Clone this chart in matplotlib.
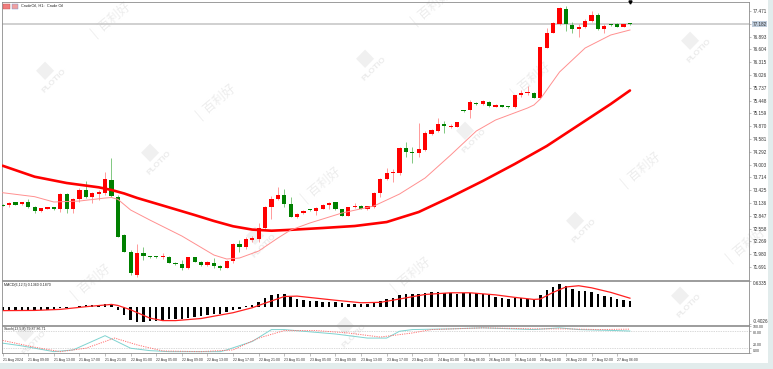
import numpy as np
import matplotlib.pyplot as plt
from matplotlib.patches import Rectangle

plt.rcParams['font.family'] = ['Liberation Sans', 'DejaVu Sans']

W, H = 773, 369

# =============================================================================
# DATI (CrudeOil H1)
# =============================================================================
opens = [73.101, 73.090, 73.151, 73.106, 73.165, 73.038, 72.955, 73.007, 73.038, 72.993,
         73.332, 72.993, 73.226, 73.429, 73.278, 73.345, 73.368, 73.655, 73.278, 72.413,
         72.036, 71.509, 72.013, 71.927, 71.927, 71.916, 71.923, 71.787, 71.751, 71.674,
         71.909, 71.810, 71.735, 71.787, 71.713, 71.674, 71.832, 72.203, 72.135, 72.300,
         72.316, 72.578, 73.038, 73.219, 73.316, 73.113, 72.826, 72.903, 72.982, 72.955,
         73.000, 73.083, 73.151, 73.000, 72.848, 73.038, 73.074, 72.989, 73.052, 73.354,
         73.670, 73.806, 73.806, 74.370, 74.294, 74.257, 74.332, 74.693, 74.768, 74.919,
         74.858, 74.858, 75.235, 75.235, 75.400, 75.371, 75.423, 75.310, 75.348, 75.326,
         75.296, 75.574, 75.612, 75.626, 75.513, 76.642, 76.981, 77.177, 77.509, 77.154,
         77.057, 77.116, 77.245, 77.380, 77.057, 77.159, 77.177, 77.116, 77.190]
highs = [73.113, 73.165, 73.165, 73.165, 73.219, 73.068, 73.029, 73.052, 73.052, 73.354,
         73.354, 73.241, 73.467, 73.639, 73.384, 73.429, 73.842, 74.145, 73.316, 72.435,
         72.074, 72.209, 72.148, 71.939, 71.939, 71.999, 71.939, 71.803, 71.848, 71.923,
         71.916, 71.826, 71.826, 71.887, 71.735, 71.848, 72.225, 72.300, 72.374, 72.390,
         72.677, 73.068, 73.300, 73.490, 73.445, 73.278, 72.909, 72.977, 72.989, 73.052,
         73.113, 73.165, 73.165, 73.011, 73.045, 73.128, 73.090, 73.074, 73.390, 73.693,
         73.919, 73.896, 74.407, 74.519, 74.407, 74.935, 74.768, 74.806, 75.048, 74.987,
         74.919, 74.971, 75.246, 75.461, 75.416, 75.461, 75.438, 75.364, 75.359, 75.337,
         75.585, 75.687, 75.777, 75.642, 76.665, 77.080, 77.229, 77.568, 77.584, 77.229,
         77.177, 77.283, 77.477, 77.419, 77.177, 77.166, 77.206, 77.188, 77.195]
lows = [73.068, 73.052, 73.083, 73.090, 73.016, 72.903, 72.932, 73.000, 72.984, 72.939,
        72.903, 72.903, 73.165, 73.241, 73.128, 73.203, 73.316, 73.278, 72.368, 72.029,
        71.509, 71.471, 71.848, 71.905, 71.905, 71.864, 71.780, 71.735, 71.622, 71.638,
        71.803, 71.724, 71.724, 71.661, 71.622, 71.668, 71.774, 72.036, 72.097, 72.255,
        72.261, 72.548, 72.774, 73.203, 73.038, 72.812, 72.797, 72.887, 72.966, 72.864,
        72.989, 72.993, 72.977, 72.842, 72.842, 73.016, 73.000, 72.977, 73.016, 73.278,
        73.655, 73.616, 73.767, 74.181, 74.032, 74.181, 74.316, 74.671, 74.745, 74.723,
        74.822, 74.851, 75.201, 75.048, 75.348, 75.348, 75.314, 75.303, 75.303, 75.280,
        75.280, 75.535, 75.574, 75.506, 75.499, 76.628, 76.967, 77.154, 77.026, 76.967,
        76.877, 77.080, 77.229, 77.042, 76.967, 77.143, 77.103, 77.109, 77.160]
closes = [73.079, 73.142, 73.097, 73.158, 73.038, 72.948, 73.016, 73.038, 72.993, 73.332,
          72.993, 73.219, 73.429, 73.278, 73.354, 73.384, 73.670, 73.300, 72.374, 72.036,
          71.548, 72.013, 71.939, 71.920, 71.920, 71.927, 71.787, 71.751, 71.674, 71.909,
          71.810, 71.735, 71.810, 71.713, 71.674, 71.832, 72.203, 72.135, 72.316, 72.338,
          72.578, 73.038, 73.226, 73.316, 73.113, 72.826, 72.887, 72.961, 72.973, 73.016,
          73.090, 73.128, 73.000, 72.848, 73.038, 73.074, 73.007, 73.061, 73.354, 73.670,
          73.806, 73.842, 74.370, 74.294, 74.257, 74.348, 74.709, 74.784, 74.919, 74.874,
          74.874, 74.957, 75.213, 75.423, 75.364, 75.445, 75.326, 75.348, 75.310, 75.296,
          75.574, 75.626, 75.648, 75.513, 76.651, 76.981, 77.206, 77.532, 77.177, 77.057,
          77.116, 77.252, 77.380, 77.057, 77.139, 77.150, 77.116, 77.177, 77.182]

# medie mobili (lenta spessa, veloce sottile)
slow_ma_idx = [0, 5, 10, 15, 17, 19, 21, 25, 30, 33, 36, 39, 42, 45, 50, 55, 60, 65, 70, 75,
               80, 85, 90, 95, 98]
slow_ma = [73.977, 73.729, 73.587, 73.490, 73.430, 73.350, 73.250, 73.079, 72.864, 72.730,
           72.610, 72.535, 72.510, 72.530, 72.571, 72.616, 72.706, 72.932, 73.271, 73.632,
           74.016, 74.422, 74.896, 75.371, 75.676]
fast_ma_idx = [0, 5, 8, 12, 16, 17, 18, 20, 23, 28, 33, 35, 37, 40, 43, 45, 48, 53, 58, 62, 66,
               70, 74, 77, 82, 83, 84, 87, 91, 95, 98]
fast_ma = [73.368, 73.278, 73.158, 73.180, 73.248, 73.259, 73.219, 72.977, 72.751, 72.390, 71.961,
           71.871, 71.893, 72.051, 72.345, 72.526, 72.684, 72.909, 73.068, 73.338, 73.700,
           74.219, 74.761, 75.009, 75.280, 75.348, 75.484, 76.093, 76.635, 76.929, 77.042]

# MACD
macd_hist = [-0.085, -0.085, -0.08, -0.08, -0.08, -0.075, -0.07, -0.065, -0.05, -0.02,
             -0.01, 0.01, 0.03, 0.05, 0.05, 0.06, 0.09, 0.07, -0.07, -0.19,
             -0.31, -0.345, -0.345, -0.33, -0.32, -0.30, -0.29, -0.28, -0.27, -0.25,
             -0.23, -0.21, -0.19, -0.17, -0.15, -0.12, -0.07, -0.03, 0.02, 0.05,
             0.12, 0.22, 0.30, 0.32, 0.31, 0.25, 0.20, 0.18, 0.16, 0.15,
             0.14, 0.14, 0.12, 0.10, 0.08, 0.09, 0.08, 0.09, 0.12, 0.15,
             0.19, 0.22, 0.30, 0.32, 0.32, 0.31, 0.34, 0.36, 0.37, 0.35,
             0.34, 0.32, 0.34, 0.35, 0.34, 0.32, 0.30, 0.26, 0.22, 0.20,
             0.22, 0.22, 0.20, 0.18, 0.30, 0.42, 0.50, 0.555, 0.52, 0.44,
             0.40, 0.40, 0.38, 0.32, 0.27, 0.24, 0.20, 0.18, 0.15]
macd_sig_idx = [0, 5, 9, 13, 17, 18, 20, 23, 25, 27, 31, 36, 39, 41, 44, 46, 49, 52, 56, 59,
                62, 66, 70, 73, 77, 80, 83, 84, 86, 88, 90, 92, 95, 98]
macd_sig = [-0.08, -0.075, -0.05, 0.015, 0.07, 0.045, -0.06, -0.26, -0.32, -0.32, -0.27, -0.13,
            -0.01, 0.10, 0.26, 0.27, 0.22, 0.17, 0.11, 0.12, 0.20, 0.31, 0.35, 0.35, 0.30, 0.24,
            0.19, 0.20, 0.36, 0.49, 0.52, 0.47, 0.36, 0.22]

# Stocastico
sto_main_idx = [0, 3, 8, 11, 16, 20, 23, 26, 34, 35, 39, 42, 44, 47, 52, 57, 60, 62, 64, 70, 75,
                83, 87, 90, 96, 98]
sto_main = [35.8, 25.9, 4.9, 11.1, 63.0, 17.3, 8.6, 4.9, 4.9, 11.1, 42.0, 85.2, 85.2, 79.0, 69.1,
            54.3, 54.3, 79.0, 85.2, 87.8, 91.4, 85.2, 91.4, 85.2, 81.5, 79.87]
sto_sig_idx = [0, 5, 9, 13, 17.5, 21, 25, 31, 36, 40, 44, 49, 54, 59, 64, 67, 75, 83, 88, 93, 98]
sto_sig = [45.7, 21.0, 4.9, 17.3, 54.3, 29.6, 7.4, 4.9, 11.1, 54.3, 81.5, 81.5, 72.8, 58.0, 72.8,
           85.2, 91.4, 87.8, 87.8, 85.2, 86.71]

price_ticks = [77.471, 77.182, 76.893, 76.604, 76.315, 76.026, 75.737, 75.448, 75.159, 74.870,
               74.581, 74.292, 74.003, 73.714, 73.425, 73.136, 72.847, 72.558, 72.269, 71.980,
               71.691]
macd_ticks = [0.6335, -0.4026]
sto_ticks = [100, 80, 20, 0]
time_labels = ['21 Aug 2024', '21 Aug 09:00', '21 Aug 13:00', '21 Aug 17:00', '21 Aug 21:00',
               '22 Aug 01:00', '22 Aug 05:00', '22 Aug 09:00', '22 Aug 13:00', '22 Aug 17:00',
               '22 Aug 21:00', '23 Aug 01:00', '23 Aug 05:00', '23 Aug 09:00', '23 Aug 13:00',
               '23 Aug 17:00', '23 Aug 21:00', '24 Aug 01:00', '26 Aug 06:00', '26 Aug 10:00',
               '26 Aug 14:00', '26 Aug 18:00', '26 Aug 22:00', '27 Aug 02:00', '27 Aug 06:00']

# =============================================================================
# FIGURA
# =============================================================================
fig = plt.figure(figsize=(W / 100, H / 100), dpi=100)
fig.patch.set_facecolor('white')

# bordi della finestra
fig.patches.append(Rectangle((768 / W, 0), 5 / W, 1, transform=fig.transFigure,
                             facecolor='#e2ecec', edgecolor='none', zorder=-2))
fig.patches.append(Rectangle((0, 0), 1, 6 / H, transform=fig.transFigure,
                             facecolor='#e2ecec', edgecolor='none', zorder=-2))


def fx(x):
    return x / W


def fy(y):
    return 1 - y / H


# filigrana (logo + scritta)
logos = [(45, 70), (150, 152), (255, 235), (345, 325), (25, 332), (365, 58),
         (465, 130), (575, 220), (680, 295), (690, 40)]
for lx, ly in logos:
    fig.text(fx(lx), fy(ly), '\u25c6', fontsize=17, color='#f0f0f0', ha='center',
             va='center', zorder=-1, family='DejaVu Sans')
    fig.text(fx(lx + 9), fy(ly + 11), 'PLOTIO', fontsize=6, weight='bold', color='#ebebeb',
             rotation=45, ha='center', va='center', zorder=-1)
    if ly - 50 > -10 and lx + 66 < 760:
        fig.text(fx(lx + 66), fy(ly - 50), '|  百利好', fontsize=9, color='#ededed',
                 rotation=40, ha='center', va='center', zorder=-1,
                 family=['Noto Sans CJK SC', 'DejaVu Sans'])


def px_axes(x0, y0, x1, y1):
    a = fig.add_axes([x0 / W, 1 - y1 / H, (x1 - x0) / W, (y1 - y0) / H])
    a.set_facecolor('none')
    for s in a.spines.values():
        s.set_color('#8c8c8c')
        s.set_linewidth(0.6)
    a.yaxis.tick_right()
    a.tick_params(axis='y', length=1.5, width=0.4, color='#8c8c8c', labelsize=3.3,
                  pad=1, labelcolor='#333333')
    a.tick_params(axis='x', bottom=False, labelbottom=False)
    a.set_xlim(-0.1, 116.6)
    return a


ax = px_axes(2, 2, 749, 280)
ax_macd = px_axes(2, 281, 749, 324.5)
ax_sto = px_axes(2, 325.5, 749, 353)

# --- candele ---
x = np.arange(len(opens))
o = np.array(opens)
c = np.array(closes)
up = c >= o
body_bottom = np.minimum(o, c)
body_h = np.maximum(np.abs(c - o), 0.02)
body_cols = np.where(up, '#ff0000', '#008000')
wick_cols = np.where(up, '#ff8a8a', '#6cbf6c')
ax.vlines(x, lows, highs, colors=wick_cols, linewidth=0.6, zorder=2)
ax.bar(x, body_h, bottom=body_bottom, width=0.65, color=body_cols, linewidth=0, zorder=3)

ax.plot(slow_ma_idx, slow_ma, color='#ff0000', lw=1.9, zorder=4, solid_capstyle='round',
        solid_joinstyle='round')
ax.plot(fast_ma_idx, fast_ma, color='#ff9090', lw=0.7, zorder=4)
ax.axhline(closes[-1], color='#c8c8c8', lw=1.2, zorder=1)
ax.set_ylim(71.397, 77.674)
ax.set_yticks(price_ticks)
ax.set_yticklabels([f'{v:.3f}' for v in price_ticks])
for lab in ax.get_yticklabels():
    if lab.get_text() == f'{closes[-1]:.3f}':
        lab.set_bbox(dict(facecolor='#bfcddc', edgecolor='none', pad=0.4))
ax.plot([98], [77.674], marker='v', ms=2.2, color='black', clip_on=False, zorder=5)

# --- MACD ---
ax_macd.bar(x, macd_hist, width=0.38, color='black', linewidth=0)
ax_macd.plot(macd_sig_idx, macd_sig, color='#ff2020', lw=0.9)
ax_macd.set_ylim(-0.414, 0.634)
ax_macd.set_yticks(macd_ticks)
ax_macd.set_yticklabels(['0.6335', '-0.4026'])
mlabs = ax_macd.get_yticklabels()
mlabs[0].set_va('top')
mlabs[1].set_va('bottom')
ax_macd.text(0.003, 0.95, 'MACD(6,12,5) 0.1360 0.1870', transform=ax_macd.transAxes,
             fontsize=2.6, va='top', ha='left', color='#222222')

# --- Stocastico ---
ax_sto.axhline(80, color='#b4b4b4', lw=0.5, ls=(0, (1, 1.5)))
ax_sto.axhline(20, color='#b4b4b4', lw=0.5, ls=(0, (1, 1.5)))
ax_sto.plot(sto_main_idx, sto_main, color='#7fd3d0', lw=0.7)
ax_sto.plot(sto_sig_idx, sto_sig, color='#ff7070', lw=0.7, ls=(0, (1.2, 1.2)))
ax_sto.set_ylim(0, 100)
ax_sto.set_yticks(sto_ticks)
ax_sto.set_yticklabels(['100.00', '80.00', '20.00', '0.00'])
ax_sto.tick_params(axis='y', labelsize=2.5)
ylabs = ax_sto.get_yticklabels()
ylabs[0].set_va('top')
ylabs[1].set_va('top')
ylabs[2].set_va('bottom')
ylabs[3].set_va('bottom')
ax_sto.text(0.003, 0.93, 'Stoch(13,5,8) 79.87 86.71', transform=ax_sto.transAxes,
            fontsize=2.6, va='top', ha='left', color='#222222')
ax_sto.set_xticks(range(0, 4 * len(time_labels), 4))
ax_sto.set_xticklabels(time_labels)
ax_sto.tick_params(axis='x', bottom=True, labelbottom=True, length=2, width=0.4,
                   color='#8c8c8c', labelsize=2.5, pad=1.5, labelcolor='#333333')
for lab in ax_sto.get_xticklabels():
    lab.set_ha('left')

# --- intestazione ---
fig.patches.append(Rectangle((fx(3.5), fy(8.5)), 6 / W, 5 / H, transform=fig.transFigure,
                             facecolor='#f07c7c', edgecolor='#c05050', lw=0.3))
fig.patches.append(Rectangle((fx(12), fy(8.5)), 6 / W, 5 / H, transform=fig.transFigure,
                             facecolor='#f0a0a0', edgecolor='#7090d0', lw=0.3))
fig.text(fx(21), fy(6), 'CrudeOil, H1:  Crude Oil', fontsize=2.8, va='center', ha='left',
         color='#222222')

fig.savefig('out.png', dpi=100, facecolor=fig.get_facecolor())
